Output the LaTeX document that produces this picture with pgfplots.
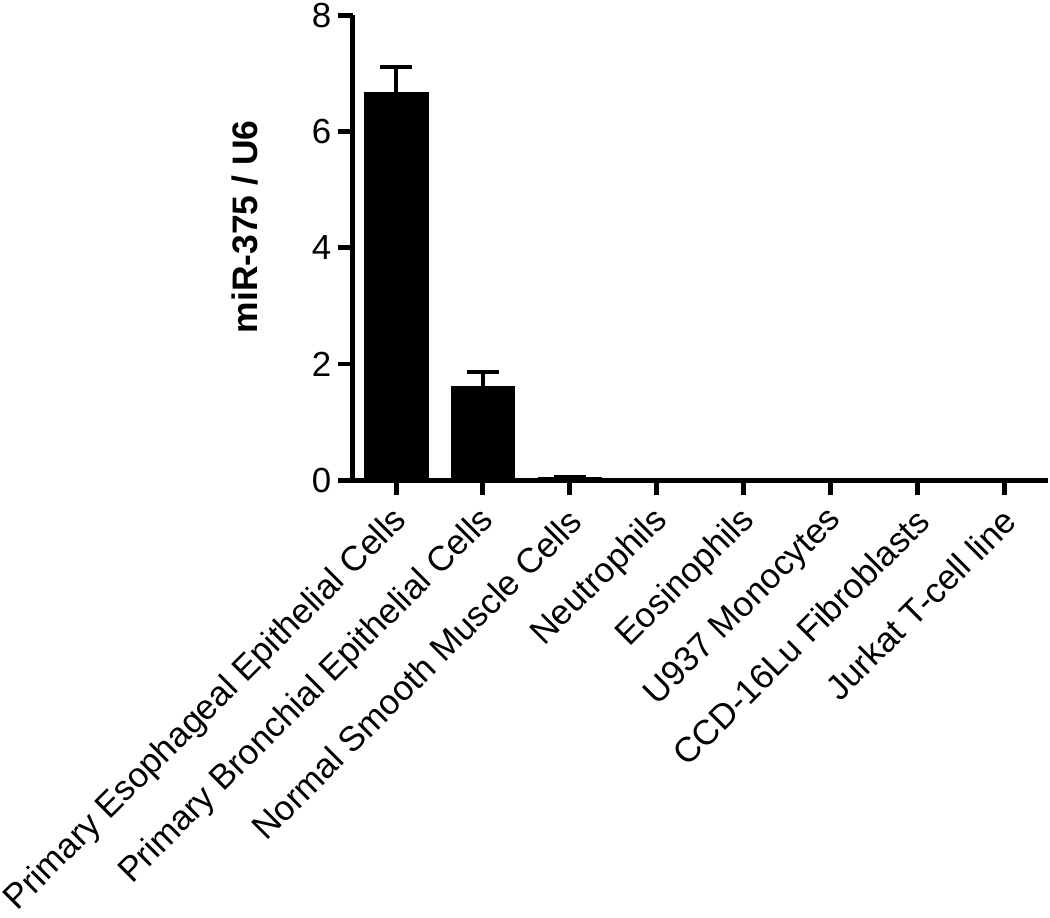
\documentclass[border=0pt]{standalone}
\usepackage{fontspec}
\setmainfont{Liberation Sans}
\usepackage{pgfplots}
\pgfplotsset{compat=1.18}
\begin{document}
\begin{tikzpicture}
\begin{axis}[
  scale only axis, width=349pt, height=233.5pt,
  xmin=0.5, xmax=8.5, ymin=0, ymax=8,
  axis lines*=left, axis line style={line width=2.5pt},
  tick align=outside, tick pos=left, major tick length=7.5pt,
  tick style={line width=2.5pt, black},
  ytick={0,2,4,6,8}, minor tick num=0,
  xtick={1,...,8},
  xticklabels={Primary Esophageal Epithelial Cells, Primary Bronchial Epithelial Cells, Normal Smooth Muscle Cells, Neutrophils, Eosinophils, U937 Monocytes, CCD-16Lu Fibroblasts, Jurkat T-cell line},
  xticklabel style={xshift=3pt, yshift=-10pt, rotate=45, anchor=east, inner sep=0pt},
  yticklabel style={inner sep=1.5pt, xshift=-1.5pt},
  ticklabel style={font=\fontsize{17.5}{21}\selectfont},
  /pgf/number format/assume math mode=true,
  ylabel={\bfseries miR-375 / U6},
  ylabel style={font=\fontsize{17.8}{20}\selectfont, at={(axis description cs:-0.155,0.545)}, anchor=center},
  ybar, bar width=32pt,
  clip=false,
]
\addplot[fill=black, draw=black, error bars/.cd, y dir=plus, y explicit,
  error bar style={line width=2pt, black},
  error mark options={rotate=90, mark size=8pt, line width=2pt, black}]
  coordinates {(1,6.68) +- (0,0.43) (2,1.61) +- (0,0.26) (3,0.05) +- (0,0.01)
    (4,0) (5,0) (6,0) (7,0) (8,0)};
\end{axis}
\end{tikzpicture}
\end{document}
